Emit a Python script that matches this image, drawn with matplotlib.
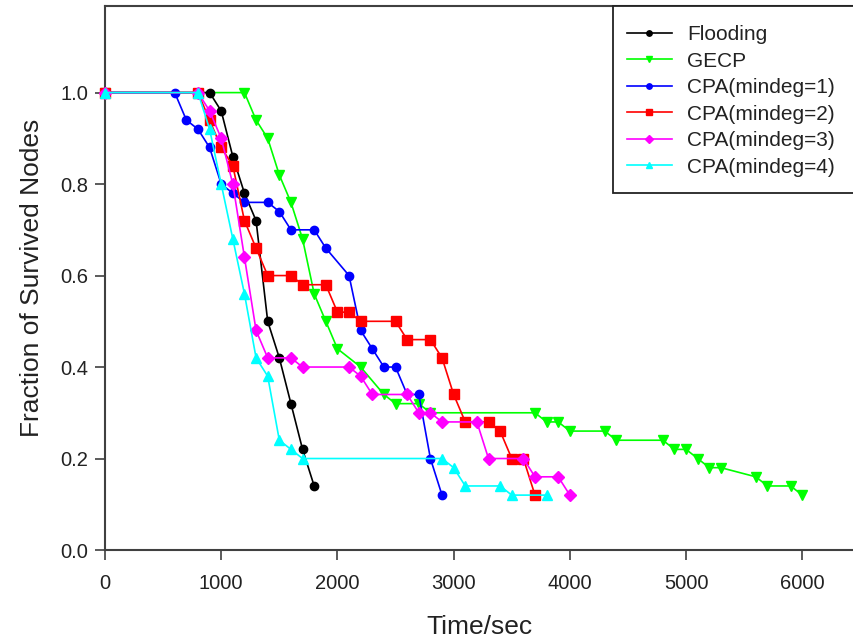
import matplotlib
matplotlib.use("Agg")
import matplotlib.pyplot as plt
from matplotlib.patches import Rectangle

plt.rcParams['font.family'] = ['Liberation Sans', 'DejaVu Sans']

# ---- data ----
flood_t = [0, 900, 1000, 1100, 1200, 1300, 1400, 1500, 1600, 1700, 1800]
flood_v = [1.0, 1.0, 0.96, 0.86, 0.78, 0.72, 0.50, 0.42, 0.32, 0.22, 0.14]

gecp_t = [0, 1200, 1300, 1400, 1500, 1600, 1700, 1800, 1900, 2000, 2200, 2400, 2500,
          2700, 2800, 3700, 3800, 3900, 4000, 4300, 4400, 4800, 4900, 5000, 5100, 5200,
          5300, 5600, 5700, 5900, 6000]
gecp_v = [1.0, 1.0, 0.94, 0.90, 0.82, 0.76, 0.68, 0.56, 0.50, 0.44, 0.40, 0.34, 0.32,
          0.32, 0.30, 0.30, 0.28, 0.28, 0.26, 0.26, 0.24, 0.24, 0.22, 0.22, 0.20, 0.18,
          0.18, 0.16, 0.14, 0.14, 0.12]

cpa1_t = [0, 600, 700, 800, 900, 1000, 1100, 1200, 1400, 1500, 1600, 1800, 1900, 2100,
          2200, 2300, 2400, 2500, 2600, 2700, 2800, 2900]
cpa1_v = [1.0, 1.0, 0.94, 0.92, 0.88, 0.80, 0.78, 0.76, 0.76, 0.74, 0.70, 0.70, 0.66, 0.60,
          0.48, 0.44, 0.40, 0.40, 0.34, 0.34, 0.20, 0.12]

cpa2_t = [0, 800, 900, 1000, 1100, 1200, 1300, 1400, 1600, 1700, 1900, 2000, 2100, 2200,
          2500, 2600, 2800, 2900, 3000, 3100, 3300, 3400, 3500, 3600, 3700]
cpa2_v = [1.0, 1.0, 0.94, 0.88, 0.84, 0.72, 0.66, 0.60, 0.60, 0.58, 0.58, 0.52, 0.52, 0.50,
          0.50, 0.46, 0.46, 0.42, 0.34, 0.28, 0.28, 0.26, 0.20, 0.20, 0.12]

cpa3_t = [0, 800, 900, 1000, 1100, 1200, 1300, 1400, 1600, 1700, 2100, 2200, 2300, 2600,
          2700, 2800, 2900, 3200, 3300, 3600, 3700, 3900, 4000]
cpa3_v = [1.0, 1.0, 0.96, 0.90, 0.80, 0.64, 0.48, 0.42, 0.42, 0.40, 0.40, 0.38, 0.34, 0.34,
          0.30, 0.30, 0.28, 0.28, 0.20, 0.20, 0.16, 0.16, 0.12]

cpa4_t = [0, 800, 900, 1000, 1100, 1200, 1300, 1400, 1500, 1600, 1700, 2900, 3000, 3100,
          3400, 3500, 3800]
cpa4_v = [1.0, 1.0, 0.92, 0.80, 0.68, 0.56, 0.42, 0.38, 0.24, 0.22, 0.20, 0.20, 0.18, 0.14,
          0.14, 0.12, 0.12]

labels = ["Flooding", "GECP", "CPA(mindeg=1)", "CPA(mindeg=2)", "CPA(mindeg=3)", "CPA(mindeg=4)"]
x_ticks = [0, 1000, 2000, 3000, 4000, 5000, 6000]
y_ticks = [0.0, 0.2, 0.4, 0.6, 0.8, 1.0]
y_ticklabels = ["0.0", "0.2", "0.4", "0.6", "0.8", "1.0"]

series = [
    (flood_t, flood_v, "#000000", "o", 6.0, 3),
    (gecp_t, gecp_v, "#00FF00", "v", 7.0, 2),
    (cpa1_t, cpa1_v, "#0000FF", "o", 6.0, 4),
    (cpa2_t, cpa2_v, "#FF0000", "s", 6.5, 5),
    (cpa3_t, cpa3_v, "#FF00FF", "D", 6.0, 6),
    (cpa4_t, cpa4_v, "#00FFFF", "^", 6.5, 7),
]

fig = plt.figure(figsize=(8.54, 6.44), dpi=100)
W, H = 854, 644
x0, x1 = 105, 854
y0, y1 = 550, 5.7
ax = fig.add_axes([x0 / W, (H - y0) / H, (x1 - x0) / W, (y0 - y1) / H])

for (t, v, c, m, ms, z), lab in zip(series, labels):
    ax.plot(t, v, color=c, marker=m, markersize=ms, linewidth=1.2,
            markeredgecolor=c, label=lab, zorder=z, clip_on=False)

ax.set_xlim(0, 6445)
ax.set_ylim(0, 1.19)
ax.set_xticks(x_ticks)
ax.set_xticklabels([str(x) for x in x_ticks])
ax.set_yticks(y_ticks)
ax.set_yticklabels(y_ticklabels)

for s in ["left", "bottom", "top"]:
    ax.spines[s].set_color("#404040")
    ax.spines[s].set_linewidth(1.5)
ax.spines["right"].set_visible(False)

ax.tick_params(axis="both", direction="out", length=7, width=1.2, color="#404040",
               labelsize=14.5, labelcolor="#222222", pad=5)
ax.tick_params(axis="x", pad=10)

ax.set_xlabel("Time/sec", fontsize=19, color="#222222", labelpad=16)
ax.set_ylabel("Fraction of Survived Nodes", fontsize=19, color="#222222", labelpad=12)

# legend frame (right side runs past the image edge, as in the reference)
frame = Rectangle((613 / W, 1 - 193 / H), (900 - 613) / W, (193 - 5.7) / H,
                  transform=fig.transFigure, facecolor="white", edgecolor="#222222",
                  linewidth=1.3, zorder=20, clip_on=False)
fig.add_artist(frame)

leg = ax.legend(loc="upper left", bbox_to_anchor=(613 / W, 1 - 11.5 / H),
                bbox_transform=fig.transFigure, borderaxespad=0,
                fontsize=15, frameon=False, handlelength=2.2, handletextpad=0.7,
                labelspacing=0.36, borderpad=0.65, markerscale=0.65)
leg.set_zorder(30)
fig.add_artist(leg)
for txt in leg.get_texts():
    txt.set_color("#222222")

fig.savefig("out.png", dpi=100)
